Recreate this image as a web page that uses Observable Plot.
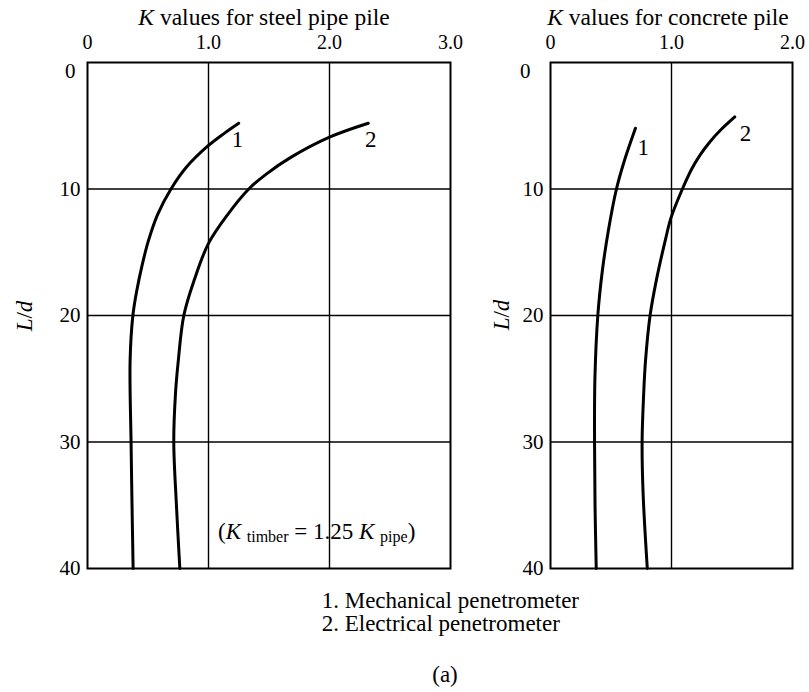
<!DOCTYPE html>
<html><head><meta charset="utf-8">
<script src="https://cdn.jsdelivr.net/npm/d3@7"></script>
<script src="https://cdn.jsdelivr.net/npm/@observablehq/plot@0.6"></script>
<style>
body{margin:0;background:#fff;}
#fig{position:relative;width:809px;height:692px;font-family:"Liberation Serif","Times New Roman",serif;color:#000;overflow:hidden;}
.pw{position:absolute;top:0;}
.t{position:absolute;white-space:nowrap;font-size:23px;line-height:18px;}
.c{transform:translateX(-50%);}
.sub{font-size:16px;position:relative;top:3px;}
.rot{transform:translate(-50%,-50%) rotate(-90deg);}
</style></head><body>
<div id="fig">
  <div id="left" class="pw" style="left:0"></div>
  <div id="right" class="pw" style="left:470px"></div>
  <div class="t c" style="left:264px;top:7.7px;font-size:23.5px"><i>K</i> values for steel pipe pile</div>
  <div class="t c" style="left:668px;top:7.7px;font-size:23.5px"><i>K</i> values for concrete pile</div>
  <div class="t rot" style="left:25px;top:316px"><i>L</i>/<i>d</i></div>
  <div class="t rot" style="left:502px;top:315px"><i>L</i>/<i>d</i></div>
  <div class="t" style="left:218px;top:523.2px">(<i>K</i> <span class="sub">timber</span> = 1.25 <i>K</i> <span class="sub">pipe</span>)</div>
  <div class="t" style="left:321.7px;top:591.5px">1. Mechanical penetrometer</div>
  <div class="t" style="left:321.7px;top:614.9px">2. Electrical penetrometer</div>
  <div class="t c" style="left:445px;top:666.2px">(a)</div>
</div>
<script>
// Steel pipe pile, curve 1 (mechanical penetrometer)
const steelMechLd = [4.8, 5.6, 6.6, 8.3, 10, 12, 14.1, 16, 18, 20, 23.6, 30, 35, 40];
const steelMechK  = [1.25, 1.13, 0.995, 0.815, 0.69, 0.58, 0.503, 0.452, 0.408, 0.375, 0.352, 0.36, 0.368, 0.377];
// Steel pipe pile, curve 2 (electrical penetrometer)
const steelElecLd = [4.8, 5.9, 7.5, 8.8, 10, 12, 14.3, 17.2, 20, 23.6, 26.2, 30, 35, 40];
const steelElecK  = [2.32, 2.0, 1.68, 1.48, 1.333, 1.16, 1.0, 0.882, 0.796, 0.75, 0.727, 0.713, 0.735, 0.763];
// Concrete pile, curve 1
const concMechLd = [5.2, 7.9, 10, 13.3, 16.5, 20, 25, 30, 35, 40];
const concMechK  = [0.702, 0.606, 0.545, 0.478, 0.428, 0.391, 0.367, 0.364, 0.368, 0.378];
// Concrete pile, curve 2
const concElecLd = [4.3, 5.3, 6.3, 7.3, 8.4, 10, 12.3, 14, 17.2, 20, 23.6, 26.2, 30, 34, 40];
const concElecK  = [1.523, 1.41, 1.315, 1.237, 1.168, 1.09, 0.995, 0.95, 0.875, 0.823, 0.785, 0.77, 0.757, 0.765, 0.80];

const curveNames = ["1", "2"];
const steelLabelK = [1.24, 2.34], steelLabelLd = [6.1, 6.1];
const concLabelK = [0.766, 1.612], concLabelLd = [6.7, 5.64];

const steelXTicks = [0, 1, 2, 3];
const concXTicks = [0, 1, 2];
const yTicks = [10, 20, 30, 40];
const yGrid = [10, 20, 30];

const toRows = (ld, k) => ld.map((v, i) => ({Ld: v, K: k[i]}));
const fmt = d => d === 0 ? "0" : d.toFixed(1);

function panel({width, marginLeft, marginRight, xDomain, xTicks, xGrid, curves, labK, labLd, zeroDx}) {
  const labels = curveNames.map((n, i) => ({n, K: labK[i], Ld: labLd[i]}));
  return Plot.plot({
    width, height: 600,
    marginLeft, marginRight, marginTop: 62, marginBottom: 32,
    style: {fontFamily: '"Liberation Serif", "Times New Roman", serif', fontSize: "21px", background: "transparent", color: "#000", overflow: "visible"},
    x: {domain: xDomain},
    y: {domain: [0, 40], reverse: true},
    marks: [
      Plot.gridX(xGrid, {stroke: "#000", strokeOpacity: 1, strokeWidth: 1.4}),
      Plot.gridY(yGrid, {stroke: "#000", strokeOpacity: 1, strokeWidth: 1.6}),
      Plot.frame({stroke: "#000", strokeWidth: 2}),
      Plot.axisX(xTicks, {anchor: "top", tickSize: 0, tickPadding: 14, tickFormat: fmt, label: null, fill: "#000", fontSize: 20}),
      Plot.axisY(yTicks, {anchor: "left", tickSize: 0, tickPadding: 7, label: null, fill: "#000"}),
      Plot.axisY([0], {anchor: "left", tickSize: 0, tickPadding: 7, dx: zeroDx, dy: 9, label: null, fill: "#000"}),
      ...curves.map(c => Plot.line(c, {x: "K", y: "Ld", curve: "catmull-rom", stroke: "#000", strokeWidth: 3})),
      Plot.text(labels, {x: "K", y: "Ld", text: "n", fontSize: 23, fill: "#000"})
    ]
  });
}

document.getElementById("left").appendChild(panel({
  width: 470, marginLeft: 87, marginRight: 20,
  xDomain: [0, 3], xTicks: steelXTicks, xGrid: [1, 2],
  curves: [toRows(steelMechLd, steelMechK), toRows(steelElecLd, steelElecK)],
  labK: steelLabelK, labLd: steelLabelLd, zeroDx: -5
}));
document.getElementById("right").appendChild(panel({
  width: 339, marginLeft: 80, marginRight: 17,
  xDomain: [0, 2], xTicks: concXTicks, xGrid: [1],
  curves: [toRows(concMechLd, concMechK), toRows(concElecLd, concElecK)],
  labK: concLabelK, labLd: concLabelLd, zeroDx: -13
}));
</script>
</body></html>
